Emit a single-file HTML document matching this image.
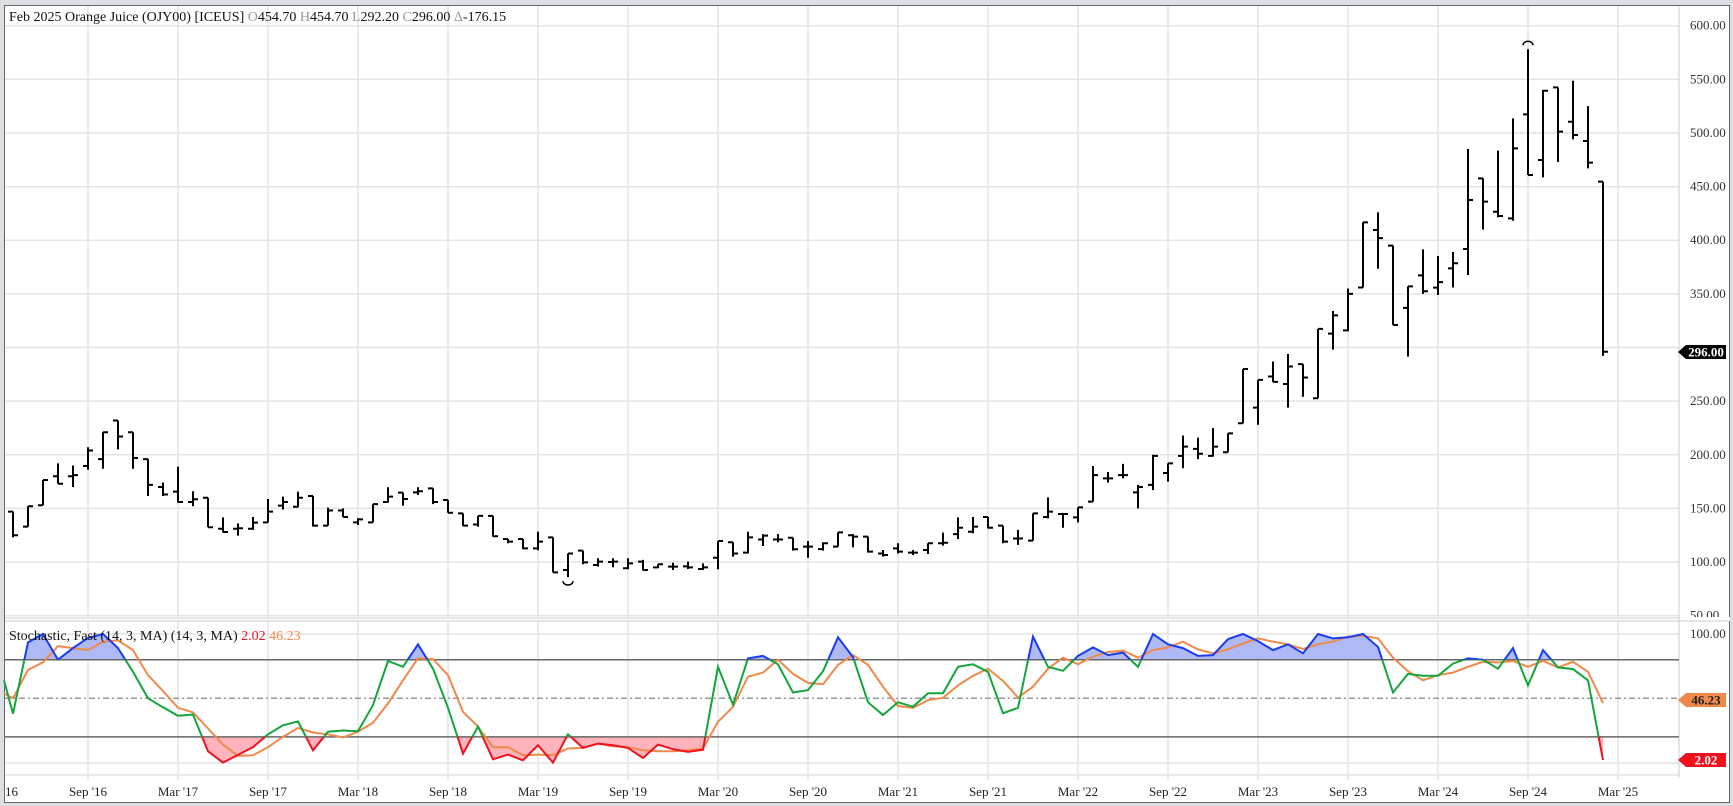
<!DOCTYPE html>
<html><head><meta charset="utf-8"><style>
html,body{margin:0;padding:0;background:#dcdfe3;}
svg{display:block;font-family:"Liberation Serif",serif;}
</style></head><body>
<svg id="c" width="1733" height="806" xmlns="http://www.w3.org/2000/svg"></svg>
<script>
const bars=[
[147,147,123,125],[133,152,133,152],[153,176.5,153,176.5],[180,192,173,173],[180,190,170,181],
[189.5,207,186,204],[196,221,187,221],[232,232,205,217],[221,221,187,197],[196,196,161.6,172],
[170,174,161.6,163],[165.6,189,155.4,156],[156,166,152,158.5],[160,160,132.4,132.4],[131,141.7,127.7,128],
[131,136,124.6,131.5],[131,142,130,136.7],[137,158.8,137,147],[152.6,161,149,156],[151.6,165.6,151,160],
[161.6,161.6,133,134],[134,150.7,134,148],[148,150,142,142],[137,141,134.5,139.8],[137,154,137,154],
[156,169.7,155.4,161],[164.7,164.7,152.6,158.8],[165,169.7,162.5,166],[168.7,168.7,154,156],[157.8,157.8,146,146],
[145.4,145.4,133.6,134],[135,143,133,143],[143,143,123.7,124],[121.5,121.5,117.5,119],[121.5,121.5,112,112.8],
[112.8,128.3,111,119],[123,123,90.4,90.4],[92.6,108,86,108],[110.6,110.6,97.9,99.7],[97.3,103.5,95.7,100.4],
[100,103.5,95,100.4],[94.2,103.5,93.3,98.8],[100.4,102,92,92.6],[95,98.2,94.2,98],[95.7,99.4,92.6,95.7],
[96,100.4,93.5,95],[93.5,98.8,92.6,95],[104,119.6,93.3,119.6],[118.4,118.4,105,108],[108.8,128.3,108,123],
[121,126,115,124.6],[121,126,118.4,121],[122.7,122.7,110.6,111.9],[114.4,119.6,104,114.4],[112,118.4,110.6,117.5],
[114.4,127.7,114.4,127.7],[125,126,113.7,123.7],[123.7,123.7,108.8,109.7],[108,111.2,105,106.6],[112.8,117.5,108,109.7],
[108.8,111.2,106.6,108.8],[111.2,117.5,107.5,117.5],[117.5,127.4,115.3,118],[126,141.7,121.5,132],[128.3,142,126.8,133],
[142,142,131.4,132],[134,134,117.5,119],[122,130,116,122],[120,145.4,120,145.4],[142,160.3,140.7,147],
[144.8,145.4,132,144.8],[141.7,151,137,151],[156.3,189.5,156.3,181],[178,184,174,178],[181,191.5,178,181],
[165,172,150,170],[172,200,167,199],[183,192,175,192],[199,218,187.4,207.6],[205.5,216,196,201],
[199,224.8,198.3,207.6],[202.4,220,202.4,220],[229.4,280,229.4,280],[244,269.8,228,269.8],[273,287,268,268],
[266,294,244,282.3],[284.5,284.5,254,272],[252.7,317.4,252.7,317.4],[313,334,298,330],[316,355,315,350],
[356,416.6,356,416.6],[409.5,426,373.4,402],[395,395,321,321],[337,357,291.5,357],[367.3,391.5,350,352.4],
[355.8,385.3,349,361],[373.8,389,356,378.5],[391.8,485,367.6,437.5],[457.7,457.7,410,436],[426.6,483.5,421.3,422.6],
[420.4,513.6,418.2,485.6],[517.3,578,460.8,460.8],[474.8,540,458.6,539.4],[542.5,542.5,473,501.2],[510.5,548.7,494,498.1],
[492.5,525,467,472.3],[454.7,454.7,292.2,296]];
const K=[38,93.5,100,80,89,97,100,89,70.6,50,43,36.4,37.4,8.8,0,6,12,22,29,32,9.6,24,25,24.4,44.7,79,74.5,92,73,42.6,7,28,2.6,6.2,1.8,13.5,0,22,11.4,14.8,13.5,11.4,3.6,14,10.4,8.3,10,74.5,45,81,83,76.4,54.5,56.4,71,97.4,82,47,37,47,43.4,54,54,74.5,76.4,70.6,38.4,42.6,98,74.5,71.4,83,89.6,83.6,85.5,74.5,100,92,89,83,83.6,96,100,94.5,87.5,92,85,100,96.6,97.4,100,90,54.5,69,67.5,67.5,77,81,80,73,89,60,87.5,74,72.7,64,2.02];
const D=[50,72,78,90.6,89,87.5,94,95,87.5,68,55.6,42.6,39,26.5,14,5.2,5.7,12,20,27,23.4,22,19.5,24,31,46,64,81,80.5,68,39.5,28,12,12,5.7,6.2,5.7,11,11.4,14.8,12.7,12,9.6,8.8,8.8,9.6,11,31.7,43.4,66.8,70,80,69,62,61,76,83.6,76,59,44,42.6,48.5,50.4,60,67.5,73,63.6,50.6,59,73,81.6,76.4,82.5,86,87,81.6,87.5,89.6,94,88,85,88,92.7,96.6,94,92,88.3,92,94,98,98.7,96.6,81.6,71,64,68,70,74.5,78.4,77.8,79,74.5,79,74,78.4,70.6,46.23];
const svg=document.getElementById('c');
let h='';
const py=p=>25.7+(600-p)*1.0727;
const sy=s=>634+(100-s)*1.286;
const bx=i=>13+15*i;
h+=`<rect x="4.5" y="5.5" width="1725" height="797" fill="#fff" stroke="#666" stroke-width="1"/>`;
for(let p=50;p<=600;p+=50){h+=`<line x1="5" x2="1679" y1="${py(p)}" y2="${py(p)}" stroke="#e4e4e4" stroke-width="1.5"/>`;}
for(let x=88;x<=1620;x+=90){h+=`<line x1="${x}" x2="${x}" y1="6" y2="780" stroke="#e4e4e4" stroke-width="1.5"/>`;}
h+=`<line x1="5" x2="1679" y1="634" y2="634" stroke="#e4e4e4" stroke-width="1.5"/>`;
h+=`<line x1="5" x2="1679" y1="763" y2="763" stroke="#e4e4e4" stroke-width="1.5"/>`;
h+=`<line x1="5" x2="1679" y1="775" y2="775" stroke="#e4e4e4" stroke-width="1.5"/>`;
h+=`<rect x="5" y="617" width="1674" height="4" fill="#fff"/>`;
h+=`<line x1="5" x2="1679" y1="618" y2="618" stroke="#ccc" stroke-width="1"/>`;
h+=`<line x1="5" x2="1679" y1="621" y2="621" stroke="#ccc" stroke-width="1"/>`;
h+=`<line x1="1679" x2="1679" y1="6" y2="778" stroke="#ccc" stroke-width="1"/>`;
let bp='';
bars.forEach((b,i)=>{const x=bx(i);bp+=`M${x} ${py(b[1])}V${py(b[2])}M${x-5} ${py(b[0])}H${x}M${x} ${py(b[3])}H${x+5}`;});
h+=`<path d="${bp}" stroke="#000" stroke-width="2" fill="none"/>`;
h+=`<path d="M${bx(101)-5} ${py(578)-4} a5 4 0 0 1 10 0" stroke="#000" stroke-width="1.5" fill="none"/>`;
h+=`<path d="M${bx(37)-5} ${py(86)+4} a5 4 0 0 0 10 0" stroke="#000" stroke-width="1.5" fill="none"/>`;
const kp=[[4,sy(64)]].concat(K.map((v,i)=>[bx(i),sy(v)]));
const dp=[[4,sy(54)]].concat(D.map((v,i)=>[bx(i),sy(v)]));
const ls=a=>a.map(p=>p[0].toFixed(1)+','+p[1].toFixed(1)).join(' ');
const y80=sy(80),y20=sy(20);
h+=`<defs><clipPath id="ca"><rect x="0" y="600" width="1679" height="${y80-600}"/></clipPath>
<clipPath id="cm"><rect x="0" y="${y80}" width="1679" height="${y20-y80}"/></clipPath>
<clipPath id="cb"><rect x="0" y="${y20}" width="1679" height="60"/></clipPath></defs>`;
const last=kp[kp.length-1][0];
h+=`<polygon points="4,${y80} ${ls(kp)} ${last},${y80}" fill="#aeb9f5" clip-path="url(#ca)"/>`;
h+=`<polygon points="4,${y20} ${ls(kp)} ${last},${y20}" fill="#ffb3ba" clip-path="url(#cb)"/>`;
h+=`<line x1="5" x2="1679" y1="${y80}" y2="${y80}" stroke="#666" stroke-width="1.5"/>`;
h+=`<line x1="5" x2="1679" y1="${y20}" y2="${y20}" stroke="#666" stroke-width="1.5"/>`;
h+=`<line x1="5" x2="1679" y1="${sy(50)}" y2="${sy(50)}" stroke="#999" stroke-width="1.5" stroke-dasharray="6,3,2,3"/>`;
h+=`<polyline points="${ls(dp)}" fill="none" stroke="#f0894a" stroke-width="2"/>`;
h+=`<polyline points="${ls(kp)}" fill="none" stroke="#1a3cf0" stroke-width="2" clip-path="url(#ca)"/>`;
h+=`<polyline points="${ls(kp)}" fill="none" stroke="#12a63c" stroke-width="2" clip-path="url(#cm)"/>`;
h+=`<polyline points="${ls(kp)}" fill="none" stroke="#f0101e" stroke-width="2" clip-path="url(#cb)"/>`;
h+=`<text x="9" y="21" font-size="14" fill="#111">Feb 2025 Orange Juice (OJY00) [ICEUS] <tspan fill="#999">O</tspan>454.70 <tspan fill="#999">H</tspan>454.70 <tspan fill="#999">L</tspan>292.20 <tspan fill="#999">C</tspan>296.00 <tspan fill="#999">Δ</tspan>-176.15</text>`;
h+=`<text x="9" y="640" font-size="14" fill="#111">Stochastic, Fast (14, 3, MA)  (14, 3, MA) <tspan fill="#f0101e">2.02</tspan> <tspan fill="#f0894a">46.23</tspan></text>`;
for(let p=100;p<=600;p+=50){if(p===300)continue;h+=`<text x="1690" y="${py(p)+4}" font-size="13" fill="#333">${p.toFixed(2)}</text>`;}
h+=`<text x="1690" y="${py(50)+4}" font-size="13" fill="#333">50.00</text>`;
h+=`<rect x="1680" y="617" width="50" height="4" fill="#fff"/><line x1="1679" x2="1729" y1="621" y2="621" stroke="#ccc"/>`;
h+=`<text x="1690" y="638" font-size="13" fill="#333">100.00</text>`;
function tag(y,bg,fg,t){return `<path d="M1678 ${y} L1686 ${y-7} H1726 V${y+7} H1686 Z" fill="${bg}"/><text x="1706" y="${y+4.5}" font-size="13" font-weight="bold" fill="${fg}" text-anchor="middle">${t}</text>`;}
h+=tag(352,'#000','#fff','296.00');
h+=tag(700,'#f0894a','#222','46.23');
h+=tag(760,'#f0101e','#fff','2.02');
const lab=["Sep '16","Mar '17","Sep '17","Mar '18","Sep '18","Mar '19","Sep '19","Mar '20","Sep '20","Mar '21","Sep '21","Mar '22","Sep '22","Mar '23","Sep '23","Mar '24","Sep '24","Mar '25"];
lab.forEach((t,i)=>{h+=`<text x="${88+90*i}" y="796" font-size="13" fill="#222" text-anchor="middle">${t}</text>`;});
h+=`<text x="5" y="796" font-size="13" fill="#222">16</text>`;
svg.innerHTML=h;
</script>
</body></html>
